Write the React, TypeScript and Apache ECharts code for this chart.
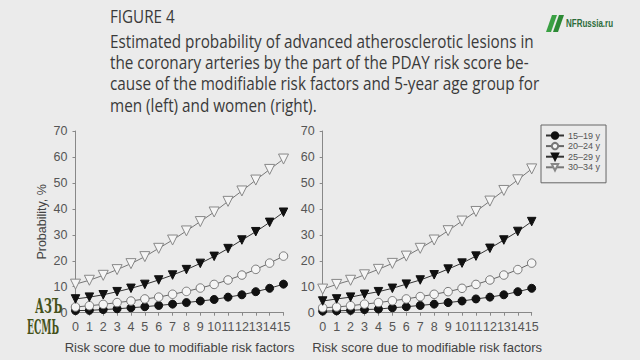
import React, { useEffect, useRef } from "react";
import * as echarts from "echarts";

const riskScores = [0, 1, 2, 3, 4, 5, 6, 7, 8, 9, 10, 11, 12, 13, 14, 15];
const ageGroups = ["15–19 y", "20–24 y", "25–29 y", "30–34 y"];

// Men (left panel)
const men15_19 = [0.8, 0.9, 1.2, 1.5, 1.9, 2.3, 2.8, 3.3, 3.9, 4.5, 5.1, 6.0, 6.9, 8.1, 9.4, 11.0];
const men20_24 = [2.2, 2.7, 3.2, 3.9, 4.5, 5.3, 6.0, 7.1, 8.2, 9.5, 10.9, 12.6, 14.5, 16.7, 19.1, 21.8];
const men25_29 = [5.3, 6.0, 6.9, 8.1, 9.4, 10.9, 12.6, 14.5, 16.6, 19.0, 21.7, 24.7, 28.0, 31.2, 34.8, 38.7];
const men30_34 = [11.0, 12.5, 14.4, 16.6, 18.9, 21.6, 24.8, 28.0, 31.5, 35.1, 38.8, 42.9, 46.9, 51.1, 55.2, 59.2];

// Women (right panel)
const women15_19 = [0.6, 0.7, 0.9, 1.2, 1.4, 1.9, 2.3, 2.8, 3.3, 3.9, 4.5, 5.3, 6.0, 6.9, 8.1, 9.4];
const women20_24 = [1.9, 2.2, 2.7, 3.3, 3.9, 4.6, 5.3, 6.2, 7.1, 8.1, 9.4, 10.9, 12.6, 14.5, 16.6, 19.1];
const women25_29 = [4.5, 5.3, 6.0, 7.1, 8.1, 9.4, 11.0, 12.6, 14.6, 16.8, 19.1, 21.8, 24.8, 28.0, 31.3, 35.1];
const women30_34 = [9.1, 10.9, 12.5, 14.6, 16.7, 19.0, 21.8, 24.8, 28.0, 31.6, 35.3, 39.0, 43.0, 47.1, 51.2, 55.4];

const yTicks = [0, 10, 20, 30, 40, 50, 60, 70];

const titleLines = [
  "Estimated probability of advanced atherosclerotic lesions in",
  "the coronary arteries by the part of the PDAY risk score be-",
  "cause of the modifiable risk factors and 5-year age group for",
  "men (left) and women (right).",
];

const BG = "#ebebeb";
const AXIS = "#888";
const LABEL = "#555";
const FONT = "Liberation Sans, Arial, sans-serif";

const styles = [
  { symbol: "circle", rotate: 0, size: 8, fill: "#111", border: "#111", line: "#333" },
  { symbol: "circle", rotate: 0, size: 8.5, fill: "#f5f5f5", border: "#777", line: "#666" },
  { symbol: "triangle", rotate: 180, size: 8.5, fill: "#111", border: "#111", line: "#333" },
  { symbol: "triangle", rotate: 180, size: 10, fill: "#f5f5f5", border: "#888", line: "#777" },
];

function makeSeries(values: number[][], gridIndex: number) {
  return values.map((arr, k) => ({
    type: "line",
    name: ageGroups[k],
    xAxisIndex: gridIndex,
    yAxisIndex: gridIndex,
    data: riskScores.map((x, i) => [x, arr[i]]),
    symbol: styles[k].symbol,
    symbolRotate: styles[k].rotate,
    symbolSize: styles[k].size,
    showAllSymbol: true,
    lineStyle: { color: styles[k].line, width: 1 },
    itemStyle: { color: styles[k].fill, borderColor: styles[k].border, borderWidth: 1 },
    emphasis: { disabled: true },
    z: 2 + k,
  }));
}

function xAxis(gridIndex: number) {
  return {
    type: "value",
    gridIndex,
    min: 0,
    max: 15,
    interval: 1,
    name: "Risk score due to modifiable risk factors",
    nameLocation: "middle",
    nameGap: 28,
    nameTextStyle: { color: "#444", fontSize: 13, fontFamily: FONT },
    axisLine: { show: true, lineStyle: { color: AXIS, width: 1 } },
    axisTick: { show: true, length: 3, lineStyle: { color: AXIS } },
    splitLine: { show: false },
    axisLabel: { color: LABEL, fontSize: 12.5, margin: 8, fontFamily: FONT },
  };
}

function yAxis(gridIndex: number, withName: boolean) {
  return {
    type: "value",
    gridIndex,
    min: 0,
    max: 70,
    interval: 10,
    name: withName ? "Probability, %" : "",
    nameLocation: "middle",
    nameGap: 27,
    nameTextStyle: { color: "#444", fontSize: 12.5, fontFamily: FONT },
    axisLine: { show: true, lineStyle: { color: AXIS, width: 1 } },
    axisTick: { show: true, length: 3, lineStyle: { color: AXIS } },
    splitLine: { show: false },
    axisLabel: {
      color: LABEL,
      fontSize: 12.5,
      margin: 8,
      fontFamily: FONT,
      formatter: (v: number) => (yTicks.includes(v) ? String(v) : ""),
    },
  };
}

export default function App() {
  const ref = useRef<HTMLDivElement>(null);
  useEffect(() => {
    if (!ref.current) return;
    const chart = echarts.init(ref.current, null, { renderer: "svg" });
    const titleFont = "Open Sans, Lato, sans-serif";
    chart.setOption({
      animation: false,
      backgroundColor: BG,
      grid: [
        { left: 75.5, top: 131, width: 208, height: 181.7 },
        { left: 322.7, top: 131, width: 209, height: 181.7 },
      ],
      xAxis: [xAxis(0), xAxis(1)],
      yAxis: [yAxis(0, true), yAxis(1, false)],
      legend: {
        data: ageGroups,
        orient: "vertical",
        left: 541,
        top: 125,
        padding: [6, 6, 11, 4],
        itemGap: 1.6,
        itemWidth: 18,
        itemHeight: 8,
        borderColor: "#666",
        borderWidth: 1,
        selectedMode: false,
        textStyle: { color: LABEL, fontSize: 9, padding: [0, 0, 0, -1], fontFamily: FONT },
      },
      series: [
        ...makeSeries([men15_19, men20_24, men25_29, men30_34], 0),
        ...makeSeries([women15_19, women20_24, women25_29, women30_34], 1),
      ],
      graphic: [
        {
          type: "text",
          x: 110,
          y: 6,
          scaleX: 0.8,
          style: { text: "FIGURE 4", fill: "#3a3a3a", font: `19px ${titleFont}` },
        },
        ...titleLines.map((t, i) => ({
          type: "text",
          x: 110,
          y: 31 + i * 21.3,
          scaleX: 0.805,
          style: { text: t, fill: "#3a3a3a", font: `19px ${titleFont}` },
        })),
        {
          type: "polygon",
          shape: { points: [[546, 32], [551, 32], [557, 15], [552, 15]] },
          style: { fill: "#3aa043" },
        },
        {
          type: "polygon",
          shape: { points: [[553, 32], [558, 32], [564, 15], [559, 15]] },
          style: { fill: "#2c8a35" },
        },
        {
          type: "text",
          x: 566,
          y: 18.5,
          scaleX: 0.8,
          style: { text: "NFRussia.ru", fill: "#2b6b3a", font: "bold 10px Liberation Sans, Arial, sans-serif" },
        },
        {
          type: "text",
          x: 35,
          y: 296,
          scaleX: 0.55,
          style: { text: "АЗЪ", fill: "#45521a", font: "bold 20px DejaVu Serif, serif" },
        },
        {
          type: "text",
          x: 27,
          y: 317,
          scaleX: 0.46,
          style: { text: "ЕСМЬ", fill: "#45521a", font: "bold 20px DejaVu Serif, serif" },
        },
      ],
    });
    return () => chart.dispose();
  }, []);
  return (
    <div
      ref={ref}
      style={{ position: "fixed", left: 0, top: 0, width: 640, height: 360, background: BG }}
    />
  );
}
